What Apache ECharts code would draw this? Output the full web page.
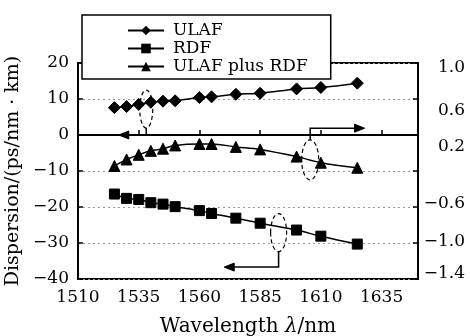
<!DOCTYPE html>
<html><head><meta charset="utf-8">
<script src="https://cdn.jsdelivr.net/npm/echarts@6/dist/echarts.min.js"></script>
<style>html,body{margin:0;padding:0;background:#fff}#c{width:470px;height:336px}</style>
</head><body><div id="c"></div>
<script>
// Data
const wavelengths = [1525, 1530, 1535, 1540, 1545, 1550, 1560, 1565, 1575, 1585, 1600, 1610, 1625];
const ulaf = [7.6, 7.9, 8.5, 9.1, 9.4, 9.5, 10.4, 10.6, 11.3, 11.6, 12.8, 13.2, 14.4];
const rdf = [-16.4, -17.6, -17.9, -18.8, -19.2, -19.9, -21.0, -21.8, -23.1, -24.5, -26.4, -28.1, -30.3];
const ulafPlusRdf = [-0.144, -0.072, -0.02, 0.024, 0.048, 0.084, 0.1, 0.1, 0.068, 0.04, -0.04, -0.108, -0.164];
const seriesNames = ['ULAF', 'RDF', 'ULAF plus RDF'];
const xTicks = {min: 1510, max: 1650, interval: 25};
const leftTicks = {min: -40, max: 20, interval: 10};
const rightTicks = {min: -1.4, max: 1.0, interval: 0.4};
// right-axis tick labels as printed in the reference (-0.2 is not printed; labels sit slightly off their ticks)
const rightLabels = ['-1.4', '-1.0', '-0.6', '', '0.2', '0.6', '1.0'];
const rightLabelShift = [-5, -1, -3, 0, 12, 12, 5];
// annotation ellipses (data units of left axis) with arrow corner & tip
const annotations = [
  {center: [1538.1, 7.2], rx: 6.5, ry: 19, from: 'bottom', corner: [1538.1, 0], tip: [1526.8, 0]},
  {center: [1605.6, -6.9], rx: 8.5, ry: 20, from: 'top', corner: [1605.0, 1.9], tip: [1628.0, 1.9]},
  {center: [1592.6, -27.1], rx: 8, ry: 19, from: 'bottom', corner: [1592.6, -36.7], tip: [1570.2, -36.7]}
];

const FONT = 'DejaVu Serif';
const minus = s => String(s).replace('-', '\u2212');
const chart = echarts.init(document.getElementById('c'));
const pair = arr => wavelengths.map((w, i) => [w, arr[i]]);
const lineCommon = {
  smooth: 0.35, showSymbol: true,
  lineStyle: {color: '#000', width: 1.5},
  itemStyle: {color: '#000', borderColor: '#000'},
  emphasis: {disabled: true}, animation: false
};
const rightRich = {};
rightLabelShift.forEach((s, i) => {
  rightRich['r' + i] = {fontFamily: FONT, fontSize: 17, color: '#000',
    padding: s >= 0 ? [2 * s, 0, 0, 0] : [0, 0, -2 * s, 0]};
});
chart.setOption({
  animation: false,
  textStyle: {fontFamily: FONT},
  grid: {left: 78, right: 52, top: 63, bottom: 57, containLabel: false, outerBoundsMode: 'none',
    show: true, borderColor: '#000', borderWidth: 2, backgroundColor: 'transparent'},
  legend: {
    left: 82, top: 15, orient: 'vertical',
    backgroundColor: '#fff', borderColor: '#000', borderWidth: 1.5, borderRadius: 0,
    padding: [7, 23, 4, 45], itemGap: 1, itemWidth: 36, itemHeight: 12,
    textStyle: {fontFamily: FONT, fontSize: 17, color: '#000', padding: [0, 0, 0, 4]},
    data: seriesNames, z: 10
  },
  xAxis: {
    type: 'value', min: xTicks.min, max: xTicks.max, interval: xTicks.interval,
    name: 'Wavelength {i|λ}/nm', nameLocation: 'middle', nameGap: 38,
    nameTextStyle: {fontFamily: FONT, fontSize: 20, color: '#000', rich: {i: {fontFamily: FONT, fontStyle: 'italic', fontSize: 20, color: '#000'}}},
    axisLine: {lineStyle: {color: '#000', width: 2}},
    axisTick: {inside: true, length: 5, lineStyle: {color: '#000', width: 1.5}},
    axisLabel: {color: '#000', fontSize: 17, fontFamily: FONT, margin: 10, showMaxLabel: false, formatter: v => String(v)},
    splitLine: {show: false}
  },
  yAxis: [{
    type: 'value', min: leftTicks.min, max: leftTicks.max, interval: leftTicks.interval,
    name: 'Dispersion/(ps/nm · km)', nameLocation: 'middle', nameGap: 45,
    nameTextStyle: {fontFamily: FONT, fontSize: 19, color: '#000'},
    axisLine: {show: true, lineStyle: {color: '#000', width: 2}},
    axisTick: {show: true, inside: true, length: 5, lineStyle: {color: '#000', width: 1.5}},
    axisLabel: {color: '#000', fontSize: 17, fontFamily: FONT, margin: 9, formatter: v => minus(v)},
    splitLine: {show: true, lineStyle: {color: '#999', type: [2, 3], width: 1}}
  }, {
    type: 'value', position: 'right', min: rightTicks.min, max: rightTicks.max, interval: rightTicks.interval,
    axisLine: {show: true, lineStyle: {color: '#000', width: 2}},
    axisTick: {show: true, inside: true, length: 5, lineStyle: {color: '#000', width: 1.5}},
    axisLabel: {color: '#000', fontSize: 17, fontFamily: FONT, margin: 47, align: 'right', rich: rightRich,
      formatter: (v, idx) => {
        const i = Math.round((v - rightTicks.min) / rightTicks.interval);
        const t = rightLabels[i];
        return t ? '{r' + i + '|' + minus(t) + '}' : '';
      }},
    splitLine: {show: false}
  }],
  series: [
    Object.assign({name: seriesNames[0], type: 'line', yAxisIndex: 0, data: pair(ulaf), symbol: 'diamond', symbolSize: 12}, lineCommon),
    Object.assign({name: seriesNames[1], type: 'line', yAxisIndex: 0, data: pair(rdf), symbol: 'rect', symbolSize: 10}, lineCommon),
    Object.assign({name: seriesNames[2], type: 'line', yAxisIndex: 1, data: pair(ulafPlusRdf), symbol: 'triangle', symbolSize: 11}, lineCommon)
  ]
});

// annotations: dashed ellipses with arrows
const toPx = p => chart.convertToPixel({xAxisIndex: 0, yAxisIndex: 0}, p);
const graphics = [];
annotations.forEach(a => {
  const c = toPx(a.center);
  graphics.push({type: 'ellipse', shape: {cx: c[0], cy: c[1], rx: a.rx, ry: a.ry},
    style: {fill: 'none', stroke: '#000', lineWidth: 1.2, lineDash: [4, 3]}, z: 20});
  const start = [c[0], a.from === 'bottom' ? c[1] + a.ry : c[1] - a.ry];
  const corner = toPx(a.corner); corner[0] = c[0];
  const tip = toPx(a.tip); tip[1] = corner[1];
  const dir = tip[0] > corner[0] ? 1 : -1;
  const headLen = 10, headW = 4;
  graphics.push({type: 'polyline', shape: {points: [start, corner, [tip[0] - dir * headLen, tip[1]]]},
    style: {fill: 'none', stroke: '#000', lineWidth: 1.5}, z: 20});
  graphics.push({type: 'polygon', shape: {points: [tip, [tip[0] - dir * headLen, tip[1] - headW], [tip[0] - dir * headLen, tip[1] + headW]]},
    style: {fill: '#000', stroke: '#000', lineWidth: 1}, z: 20});
});
chart.setOption({graphic: graphics});
</script>
</body></html>
